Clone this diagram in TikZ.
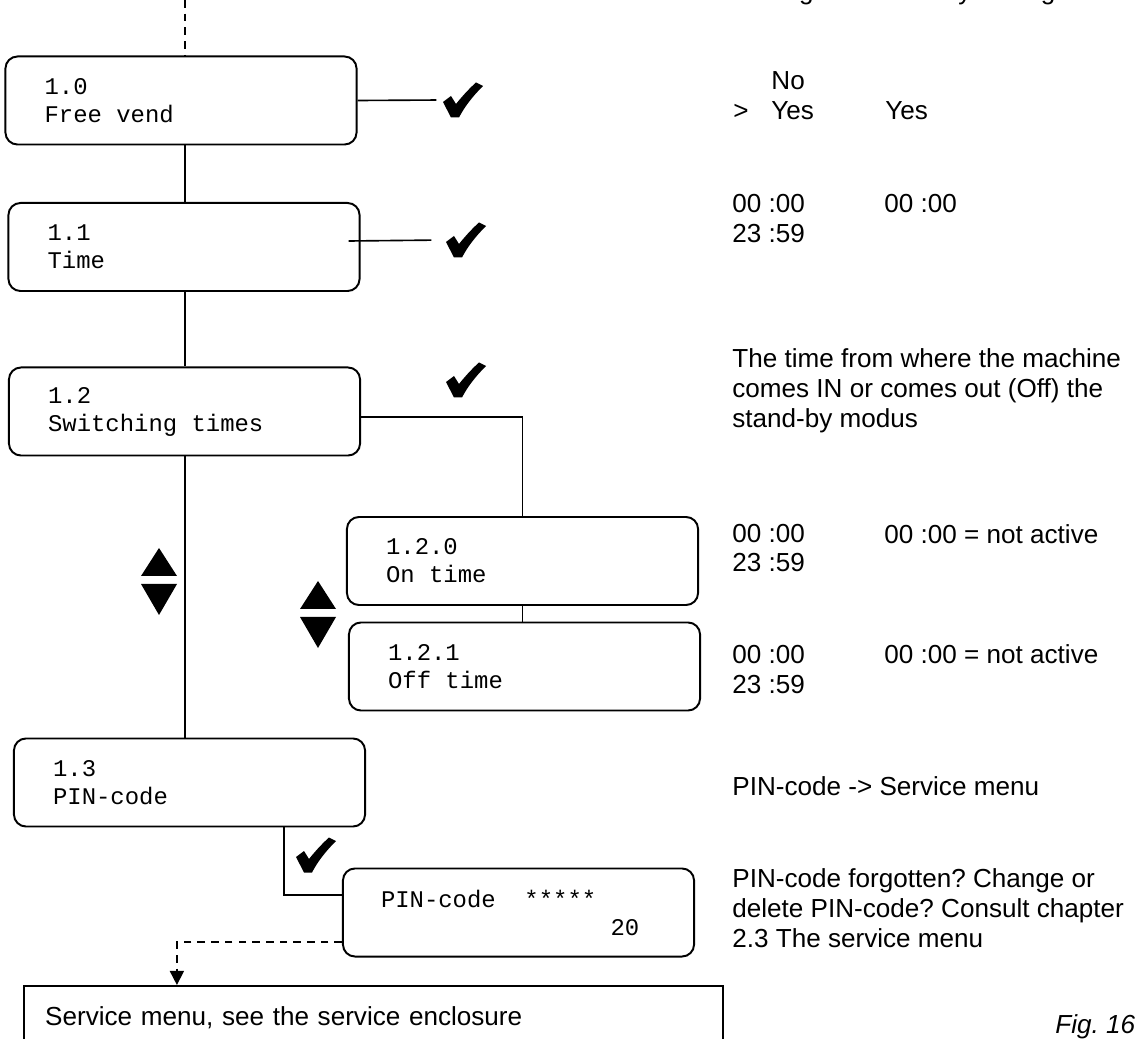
\documentclass[tikz,border=0pt]{standalone}
\usepackage{fontspec}
\setmainfont{Liberation Sans}
\setmonofont{Liberation Mono}
\usetikzlibrary{arrows.meta,positioning}

\newcommand{\lcdfont}{\fontsize{11pt}{12.9pt}\selectfont\ttfamily}
\newcommand{\lsp}{\hspace*{0.6em}}% one display cell
\newcommand{\notefont}{\fontsize{12pt}{13.8pt}\selectfont\frenchspacing}

\begin{document}
\begin{tikzpicture}[
  x=0.46pt, y=-0.46pt,
  lcd/.style={draw, rounded corners=5.5pt, line width=0.9pt, minimum width=161.5pt,
              minimum height=40.5pt, inner xsep=18pt, inner ysep=0pt,
              text width=125.5pt, align=left, font=\lcdfont},
  note/.style={anchor=base west, inner sep=0pt, align=left, font=\notefont},
  link/.style={line width=0.75pt},
  jump/.style={line width=0.75pt, dash pattern=on 3.5pt off 2.8pt},
  tick/.style={minimum width=19pt, minimum height=16.5pt, inner sep=0pt,
    path picture={\fill[shift={(path picture bounding box.center)}]
      (-20,2) -- (-12,-4) -- (-7,4) .. controls (1,-6) and (8,-13) .. (13,-17.5)
      -- (20,-14) .. controls (10,-4) and (2,6) .. (-4,17.5) -- (-12,17.5) -- cycle;}},
  updown/.pic={
    \fill (-18,-4) -- (18,-4) -- (0,-32) -- cycle;
    \fill (-18,4) -- (18,4) -- (0,35) -- cycle;}]
\useasboundingbox (0,0) rectangle (1142,1039);
\clip (0,0) rectangle (1142,1039);

% menu boxes
\node[lcd] (f10) at (181,100.5) {1.0\\Free\lsp vend};
\node[lcd] (t11) at (184,247) {1.1\\Time};
\node[lcd] (s12) at (184.5,411.5) {1.2\\Switching\lsp times};
\node[lcd] (on) at (522.5,561) {1.2.0\\On\lsp time};
\node[lcd] (off) at (524.5,666.5) {1.2.1\\Off\lsp time};
\node[lcd] (p13) at (189.5,782.5) {1.3\\PIN-code};
\node[lcd, inner xsep=17pt, text width=126.5pt] (pin) at (518.5,912.5)
  {PIN-code\lsp\lsp *****\\\hspace*{9.6em}20};
\node[draw, line width=0.9pt, anchor=north west, minimum width=321.5pt,
      minimum height=29pt, inner xsep=9.7pt, text width=302pt, align=left,
      font=\notefont] (svc) at (23,985) {Service menu, see the service enclosure};

% confirm marks and scroll arrows
\node[tick] (ck0) at (463,100) {};
\node[tick] (ck1) at (466,240) {};
\node[tick] (ck2) at (466,380) {};
\node[tick] (ck3) at (316,855) {};
\pic (ud1) at (159,580) {updown};
\pic (ud2) at (318,613) {updown};

% connectors
\coordinate (spine) at (185,0);
\draw[jump] (spine) -- (spine |- f10.north);
\draw[link] (f10.south -| spine) -- (t11.north -| spine);
\draw[link] (t11.south -| spine) -- (s12.north -| spine);
\draw[link] (s12.south -| spine) -- (p13.north -| spine);
\draw[link, shorten >=2.5pt] (f10.east) -- (ck0.west);
\draw[link, shorten >=6.2pt] ([shift={(-12,-6)}]t11.east) -- (ck1.west);
\draw[link] ([yshift=-2.5pt]s12.east) -| (on.north);
\draw[link] (on.south) -- (on.south |- off.north);
\draw[link] ([xshift=43.5pt]p13.south) |- ([yshift=8pt]pin.west);
\draw[jump, -{Triangle[length=6.5pt,width=6.5pt]}]
  ([yshift=-13.6pt]pin.west) -| ([xshift=70.8pt]svc.north west);

% settings column (multi-line notes sit on their last baseline)
\node[note] (hdr) at (732,0) {Setting};
\node[note] (hdrf) at (884,0) {Factory setting};
\node[note] (no) at (771,90) {No};
\node[note] (sel) at (733,120) {>};
\node[note] (yes) at (771,120) {Yes};
\node[note] (yesf) at (885,120) {Yes};
\node[note] (tmin) at (732,243) {00 :00\\23 :59};
\node[note] (tfac) at (884,213) {00 :00};
\node[note] (swnote) at (732,427) {The time from where the machine\\comes IN or comes out (Off) the\\stand-by modus};
\node[note] (onmin) at (732,572) {00 :00\\23 :59};
\node[note] (onfac) at (884,543) {00 :00 = not active};
\node[note] (offmin) at (732,693) {00 :00\\23 :59};
\node[note] (offfac) at (884,664) {00 :00 = not active};
\node[note] (pinnote) at (732,795) {PIN-code -> Service menu};
\node[note] (lost) at (732,947) {PIN-code forgotten? Change or\\delete PIN-code? Consult chapter\\2.3 The service menu};
\node[note, font=\notefont\itshape] (fig) at (1055,1033) {Fig. 16};
\end{tikzpicture}
\end{document}
